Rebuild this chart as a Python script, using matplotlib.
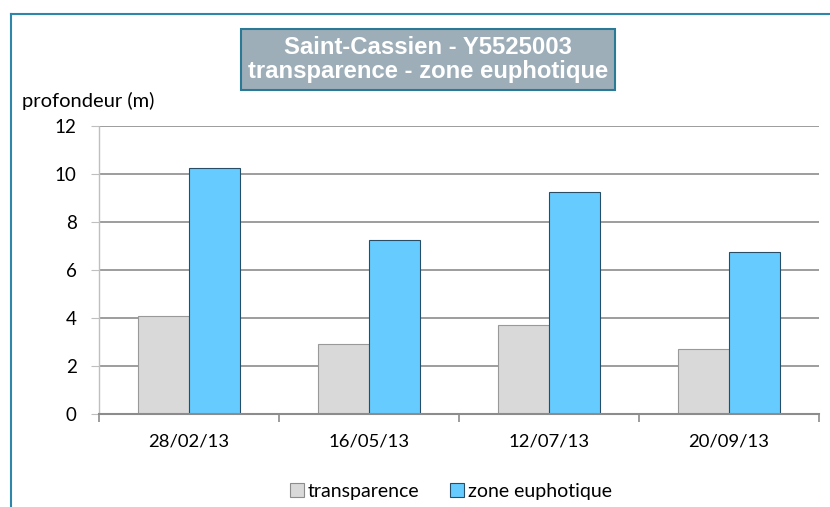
import matplotlib
matplotlib.use("Agg")
import matplotlib.pyplot as plt
import numpy as np
from matplotlib.lines import Line2D
from matplotlib.patches import Patch

categories = ["28/02/13", "16/05/13", "12/07/13", "20/09/13"]
transparence = [4.1, 2.9, 3.7, 2.7]
zone_euphotique = [10.25, 7.25, 9.25, 6.75]
series_names = ["transparence", "zone euphotique"]
yticks = [0, 2, 4, 6, 8, 10, 12]
title_lines = ["Saint-Cassien - Y5525003", "transparence - zone euphotique"]
ylabel = "profondeur (m)"

W, H = 830, 507
fig = plt.figure(figsize=(W / 100, H / 100), dpi=100)
fig.patch.set_facecolor("white")

# chart border (left and top visible)
border_c = "#2f86ab"
fig.add_artist(Line2D([11 / W, 11 / W], [0, 1 - 14 / H], transform=fig.transFigure, color=border_c, lw=1.5))
fig.add_artist(Line2D([11 / W, 1], [1 - 14 / H, 1 - 14 / H], transform=fig.transFigure, color=border_c, lw=1.5))

ax = fig.add_axes([99 / W, 1 - 414 / H, 720 / W, 288 / H])
x = np.arange(len(categories))
w = 0.2857
ax.bar(x - w / 2, transparence, width=w, color="#D9D9D9", edgecolor="#999999", linewidth=0.8, zorder=3)
ax.bar(x + w / 2, zone_euphotique, width=w, color="#66CCFF", edgecolor="#2a4d66", linewidth=0.8, zorder=3)

ax.set_xlim(-0.5, len(categories) - 0.5)
ax.set_ylim(0, 12)
ax.set_yticks(yticks)
for y in yticks[1:]:
    ax.axhline(y, color="#8c8c8c", lw=1.2, zorder=1)

for s in ["top", "right"]:
    ax.spines[s].set_visible(False)
ax.spines["left"].set_color("#bfbfbf")
ax.spines["left"].set_linestyle((0, (1, 1)))
ax.spines["left"].set_linewidth(1)
ax.spines["bottom"].set_color("#8c8c8c")
ax.spines["bottom"].set_linewidth(1.5)
ax.spines["bottom"].set_zorder(4)

ax.tick_params(axis="y", length=6, width=0.8, color="#bfbfbf", pad=10, labelsize=13.5)
for lab in ax.get_yticklabels():
    lab.set_family("Lato")
ax.set_xticks(x)
ax.set_xticklabels(categories, family="Lato", fontsize=13.3)
ax.tick_params(axis="x", length=0, pad=14)
# category boundary ticks
ax.set_xticks(np.arange(len(categories) + 1) - 0.5, minor=True)
ax.tick_params(axis="x", which="minor", length=6, width=1.2, color="#8c8c8c")

fig.text(22 / W, 1 - 101 / H, ylabel, family="Lato", fontsize=14.5, va="center", ha="left")

# title box
fig.text(428 / W, 1 - 59.5 / H, "\n".join(title_lines), ha="center", va="center",
         family="Liberation Sans", fontweight="bold", fontsize=17.2, color="white",
         linespacing=1.08,
         bbox=dict(boxstyle="square,pad=0.28", facecolor="#9DAEB8", edgecolor="#2a7a96", linewidth=1.5))

handles = [Patch(facecolor="#D9D9D9", edgecolor="#8c8c8c", linewidth=0.8),
           Patch(facecolor="#66CCFF", edgecolor="#2a4d66", linewidth=0.8)]
fig.legend(handles, series_names, loc="center", bbox_to_anchor=(451 / W, 1 - 491 / H), ncol=2,
           frameon=False, prop={"family": "Lato", "size": 14}, handlelength=0.7, handleheight=0.7,
           handletextpad=0.2, columnspacing=1.6, borderaxespad=0)

fig.savefig("out.png", dpi=100)
